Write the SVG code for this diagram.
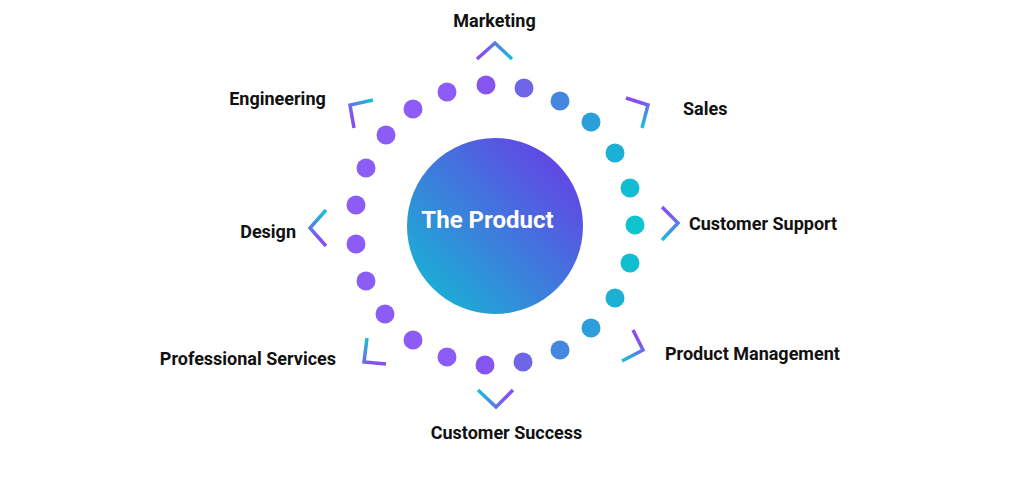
<svg xmlns="http://www.w3.org/2000/svg" width="1024" height="493" viewBox="0 0 1024 493">
<defs>
<linearGradient id="gc" x1="1" y1="0" x2="0" y2="1">
<stop offset="0.05" stop-color="#6a3ae6"/>
<stop offset="1" stop-color="#10bfd2"/>
</linearGradient>
<linearGradient id="g1" gradientUnits="userSpaceOnUse" x1="477" y1="0" x2="512" y2="0"><stop offset="0.2" stop-color="#8450f0"/><stop offset="1" stop-color="#14c3d6"/></linearGradient>
<linearGradient id="g2" gradientUnits="userSpaceOnUse" x1="354" y1="128" x2="373" y2="100"><stop offset="0.3" stop-color="#8450f0"/><stop offset="1" stop-color="#14c3d6"/></linearGradient>
<linearGradient id="g3" gradientUnits="userSpaceOnUse" x1="626" y1="98" x2="642" y2="128"><stop offset="0.3" stop-color="#8450f0"/><stop offset="1" stop-color="#14c3d6"/></linearGradient>
<linearGradient id="g4" gradientUnits="userSpaceOnUse" x1="0" y1="207" x2="0" y2="240"><stop offset="0.2" stop-color="#8450f0"/><stop offset="1" stop-color="#14c3d6"/></linearGradient>
<linearGradient id="g5" gradientUnits="userSpaceOnUse" x1="0" y1="246" x2="0" y2="210"><stop offset="0.2" stop-color="#8450f0"/><stop offset="1" stop-color="#14c3d6"/></linearGradient>
<linearGradient id="g6" gradientUnits="userSpaceOnUse" x1="386" y1="364" x2="367" y2="338"><stop offset="0.3" stop-color="#8450f0"/><stop offset="1" stop-color="#14c3d6"/></linearGradient>
<linearGradient id="g7" gradientUnits="userSpaceOnUse" x1="633" y1="330" x2="622" y2="361"><stop offset="0.3" stop-color="#8450f0"/><stop offset="1" stop-color="#14c3d6"/></linearGradient>
<linearGradient id="g8" gradientUnits="userSpaceOnUse" x1="513" y1="0" x2="478" y2="0"><stop offset="0.2" stop-color="#8450f0"/><stop offset="1" stop-color="#14c3d6"/></linearGradient>
</defs>
<style>
.lbl{font-family:Roboto,"Liberation Sans",sans-serif;font-weight:bold;font-size:18px;fill:#111;dominant-baseline:central}
.ttl{font-family:Roboto,"Liberation Sans",sans-serif;font-weight:bold;font-size:24px;fill:#fff;dominant-baseline:central}
.chev{fill:none;stroke-width:3.5;stroke-linecap:butt;stroke-linejoin:miter}
.p{fill:#8b5cf6}
</style>
<rect width="1024" height="493" fill="#fff"/>
<g id="dots">
<circle cx="486" cy="85" r="9.5" fill="#8655ee"/>
<circle cx="524" cy="88" r="9.5" fill="#6e66e6"/>
<circle cx="560" cy="101" r="9.5" fill="#4486e0"/>
<circle cx="591" cy="122" r="9.5" fill="#2c9ed9"/>
<circle cx="615" cy="153" r="9.5" fill="#1bb0d4"/>
<circle cx="630" cy="188" r="9.5" fill="#12bcd1"/>
<circle cx="635" cy="225" r="9.5" fill="#0fc3cf"/>
<circle cx="630" cy="263" r="9.5" fill="#12bcd1"/>
<circle cx="615" cy="298" r="9.5" fill="#1bb0d4"/>
<circle cx="591" cy="328" r="9.5" fill="#2c9ed9"/>
<circle cx="560" cy="350" r="9.5" fill="#4486e0"/>
<circle cx="523" cy="362" r="9.5" fill="#6e66e6"/>
<circle cx="485" cy="365" r="9.5" fill="#8655ee"/>
<circle class="p" cx="447" cy="357" r="9.5"/>
<circle class="p" cx="413" cy="340" r="9.5"/>
<circle class="p" cx="385" cy="314" r="9.5"/>
<circle class="p" cx="366" cy="281" r="9.5"/>
<circle class="p" cx="356" cy="244" r="9.5"/>
<circle class="p" cx="356" cy="205" r="9.5"/>
<circle class="p" cx="366" cy="168" r="9.5"/>
<circle class="p" cx="386" cy="135" r="9.5"/>
<circle class="p" cx="413" cy="109" r="9.5"/>
<circle class="p" cx="447" cy="92" r="9.5"/>
</g>
<g id="center">
<circle cx="495" cy="226" r="88" fill="url(#gc)"/>
<text class="ttl" x="487.5" y="220" text-anchor="middle">The Product</text>
</g>
<g id="connectors">
<polyline class="chev" stroke="url(#g1)" points="477,59 495,43 512,59"/>
<polyline class="chev" stroke="url(#g2)" points="354,128 350,105 373,100"/>
<polyline class="chev" stroke="url(#g3)" points="626,98 648,105 642,128"/>
<polyline class="chev" stroke="url(#g4)" points="662,207 678,223 662,240"/>
<polyline class="chev" stroke="url(#g5)" points="326,246 310,228 326,210"/>
<polyline class="chev" stroke="url(#g6)" points="386,364 364,362 367,338"/>
<polyline class="chev" stroke="url(#g7)" points="633,330 643,350 622,361"/>
<polyline class="chev" stroke="url(#g8)" points="513,390 496,407 478,390"/>
</g>
<g id="marketing"><text class="lbl" x="494.5" y="20" text-anchor="middle">Marketing</text></g>
<g id="engineering"><text class="lbl" x="277.5" y="98" text-anchor="middle">Engineering</text></g>
<g id="sales"><text class="lbl" x="683" y="108">Sales</text></g>
<g id="customer-support"><text class="lbl" x="689" y="223">Customer Support</text></g>
<g id="design"><text class="lbl" x="296" y="231" text-anchor="end">Design</text></g>
<g id="professional-services"><text class="lbl" x="336" y="358" text-anchor="end">Professional Services</text></g>
<g id="product-management"><text class="lbl" x="665" y="353">Product Management</text></g>
<g id="customer-success"><text class="lbl" x="506.5" y="432" text-anchor="middle">Customer Success</text></g>
</svg>
